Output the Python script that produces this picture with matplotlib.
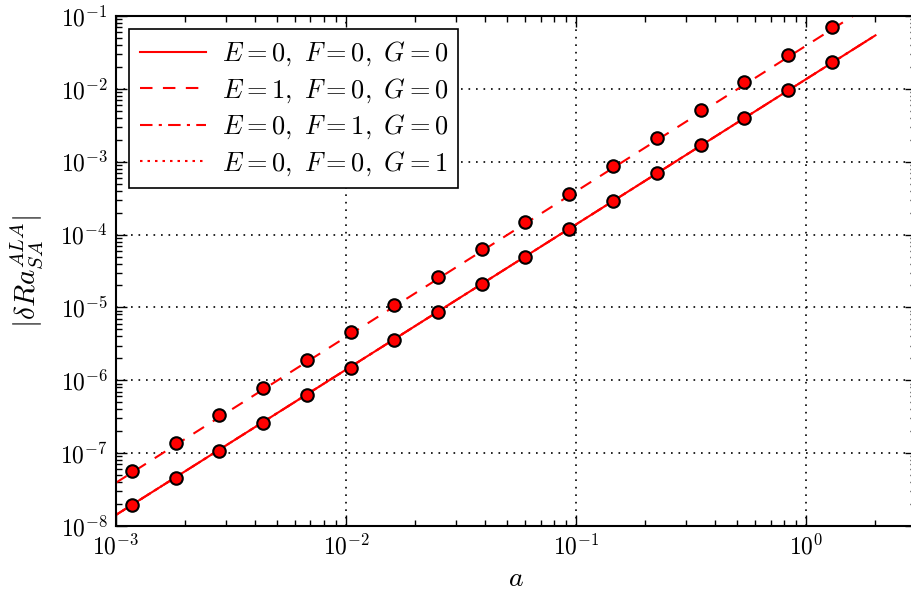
import numpy as np
import matplotlib
matplotlib.use("Agg")
import matplotlib.pyplot as plt
from matplotlib.ticker import FuncFormatter, LogLocator, NullFormatter

plt.rcParams['mathtext.fontset'] = 'cm'
plt.rcParams['font.family'] = 'serif'
plt.rcParams['xtick.direction'] = 'in'
plt.rcParams['ytick.direction'] = 'in'

# sample points
a_pts = [1.17e-3, 1.82e-3, 2.80e-3, 4.34e-3, 6.73e-3, 1.05e-2, 1.62e-2, 2.50e-2,
         3.89e-2, 6.02e-2, 9.31e-2, 0.1445, 0.224, 0.348, 0.538, 0.834, 1.288]
ra_e0 = [1.94e-8, 4.51e-8, 1.08e-7, 2.59e-7, 6.21e-7, 1.49e-6, 3.59e-6, 8.63e-6,
         2.07e-5, 4.95e-5, 1.20e-4, 2.90e-4, 6.95e-4, 1.67e-3, 3.99e-3, 9.66e-3, 2.32e-2]
ra_e1 = [5.69e-8, 1.36e-7, 3.33e-7, 7.89e-7, 1.89e-6, 4.54e-6, 1.09e-5, 2.61e-5,
         6.25e-5, 1.51e-4, 3.66e-4, 8.75e-4, 2.12e-3, 5.08e-3, 1.23e-2, 2.96e-2, 7.06e-2]

# fitted lines, end points
a_line = [1e-3, 2.0]
fit_000 = [1.42e-8, 5.43e-2]
fit_100 = [3.93e-8, 1.57e-1]
fit_010 = [1.42e-8, 5.43e-2]
fit_001 = [1.42e-8, 5.43e-2]

labels = [r'$E=0,\ F=0,\ G=0$', r'$E=1,\ F=0,\ G=0$',
          r'$E=0,\ F=1,\ G=0$', r'$E=0,\ F=0,\ G=1$']

fig = plt.figure(figsize=(9.11, 5.95), dpi=100)
ax = fig.add_axes([116 / 911, 1 - 526 / 595, 800 / 911, 510 / 595])

ax.plot(a_line, fit_000, color='red', lw=1.5, ls='-', label=labels[0])
ax.plot(a_line, fit_100, color='red', lw=1.5, dashes=[6, 5], label=labels[1])
ax.plot(a_line, fit_010, color='red', lw=1.5, dashes=[6, 3, 1.5, 3], label=labels[2], zorder=1)
ax.plot(a_line, fit_001, color='red', lw=1.5, dashes=[1.2, 2.4], label=labels[3], zorder=1)

ax.plot(a_pts, ra_e0, 'o', ms=9, mfc='red', mec='black', mew=1.5, zorder=3)
ax.plot(a_pts, ra_e1, 'o', ms=9, mfc='red', mec='black', mew=1.5, zorder=3)

ax.set_xscale('log')
ax.set_yscale('log')
ax.set_xlim(1e-3, 3)
ax.set_ylim(1e-8, 1e-1)

fmt = FuncFormatter(lambda v, p: r'$10^{%d}$' % int(round(np.log10(v))))
ax.xaxis.set_major_formatter(fmt)
ax.yaxis.set_major_formatter(fmt)
ax.xaxis.set_minor_formatter(NullFormatter())
ax.yaxis.set_minor_formatter(NullFormatter())
ax.xaxis.set_major_locator(LogLocator(base=10, numticks=10))
ax.yaxis.set_major_locator(LogLocator(base=10, numticks=10))
ax.tick_params(which='both', top=True, right=True, labelsize=17)
ax.tick_params(which='major', length=8, width=1, pad=6)
ax.tick_params(which='minor', length=4, width=1)
for s in ax.spines.values():
    s.set_linewidth(1.5)

ax.grid(True, which='major', color='black', ls=(0, (1, 3.5)), lw=1.2)

ax.set_xlabel(r'$a$', fontsize=20)
ax.set_ylabel(r'$|\delta Ra_{SA}^{ALA}|$', fontsize=21)
ax.yaxis.set_label_coords(-0.089, 0.5)

leg = ax.legend(loc='upper left', fontsize=19, fancybox=False, framealpha=1,
                edgecolor='black', handlelength=2.5, borderaxespad=0.5,
                labelspacing=0.3, handletextpad=0.6)
leg.get_frame().set_linewidth(1.2)

fig.savefig('out.png', dpi=100)
